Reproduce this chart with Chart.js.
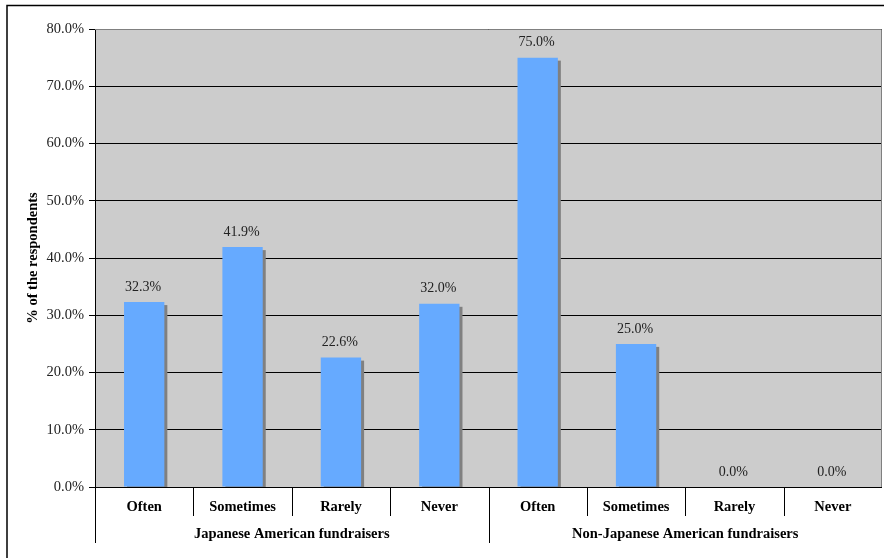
<!DOCTYPE html>
<html>
<head>
<meta charset="utf-8">
<script src="https://cdn.jsdelivr.net/npm/chart.js@4"></script>
<style>
  html, body { margin: 0; padding: 0; background: #fff; }
  #wrap { width: 884px; height: 558px; position: relative; }
</style>
</head>
<body>
<div id="wrap"><canvas id="grafico" width="884" height="558"></canvas></div>
<script>
const categorias = ['Often', 'Sometimes', 'Rarely', 'Never', 'Often', 'Sometimes', 'Rarely', 'Never'];
const grupos = ['Japanese American fundraisers', 'Non-Japanese American fundraisers'];
const valores = [32.3, 41.9, 22.6, 32.0, 75.0, 25.0, 0.0, 0.0];
const tituloEjeY = '% of the respondents';

const fuente = '"Liberation Serif", "Times New Roman", serif';

// fondo gris del area de trazado y marco exterior
const fondoPlugin = {
  id: 'fondo',
  beforeDraw(chart) {
    const { ctx, chartArea: a } = chart;
    ctx.save();
    ctx.fillStyle = '#cccccc';
    ctx.fillRect(a.left, a.top, a.right - a.left, a.bottom - a.top);
    ctx.strokeStyle = '#000';
    ctx.lineWidth = 1.5;
    ctx.strokeRect(7, 5.5, 900, 600);
    ctx.restore();
  },
  afterDraw(chart) {
    const { ctx, chartArea: a } = chart;
    ctx.save();
    ctx.strokeStyle = '#808080';
    ctx.lineWidth = 1;
    ctx.beginPath();
    ctx.moveTo(a.left, a.top + 0.5);
    ctx.lineTo(a.right - 0.5, a.top + 0.5);
    ctx.lineTo(a.right - 0.5, a.bottom);
    ctx.stroke();

    // titulo del eje Y, girado
    ctx.fillStyle = '#000';
    ctx.font = 'bold 14.5px ' + fuente;
    ctx.textAlign = 'center';
    ctx.textBaseline = 'middle';
    ctx.translate(33, (a.top + a.bottom) / 2);
    ctx.rotate(-Math.PI / 2);
    ctx.fillText(tituloEjeY, 0, 0);
    ctx.restore();
  }
};

// sombra gris desplazada detras de cada barra
const sombraPlugin = {
  id: 'sombra',
  beforeDatasetsDraw(chart) {
    const { ctx, chartArea: a } = chart;
    const meta = chart.getDatasetMeta(0);
    ctx.save();
    ctx.beginPath();
    ctx.rect(a.left, a.top, a.right - a.left, a.bottom - a.top);
    ctx.clip();
    ctx.fillStyle = '#808080';
    meta.data.forEach(bar => {
      const w = bar.width;
      const h = bar.base - bar.y;
      if (h <= 0) return;
      ctx.fillRect(bar.x - w / 2 + 3, bar.y + 3, w, h);
    });
    ctx.restore();
  }
};

// etiquetas de valor sobre las barras
const etiquetasPlugin = {
  id: 'etiquetas',
  afterDatasetsDraw(chart) {
    const { ctx } = chart;
    const meta = chart.getDatasetMeta(0);
    ctx.save();
    ctx.font = '14px ' + fuente;
    ctx.fillStyle = '#222';
    ctx.textAlign = 'center';
    ctx.textBaseline = 'middle';
    meta.data.forEach((bar, i) => {
      ctx.fillText(valores[i].toFixed(1) + '%', bar.x - 1, bar.y - 15);
    });
    ctx.restore();
  }
};

// eje de categorias en dos niveles
const ejeXPlugin = {
  id: 'ejeX',
  afterDraw(chart) {
    const { ctx, chartArea: a } = chart;
    const x = chart.scales.x;
    const paso = (a.right - a.left) / categorias.length;
    ctx.save();
    ctx.strokeStyle = '#000';
    ctx.lineWidth = 1;
    ctx.beginPath();
    ctx.moveTo(a.left, a.bottom + 0.5);
    ctx.lineTo(a.right, a.bottom + 0.5);
    ctx.stroke();

    // separadores
    for (let i = 0; i < categorias.length; i++) {
      const px = Math.round(a.left + paso * i) + 0.5;
      const largo = (i % 4 === 0) ? 56 : 29;
      ctx.beginPath();
      ctx.moveTo(px, a.bottom);
      ctx.lineTo(px, a.bottom + largo);
      ctx.stroke();
    }

    ctx.fillStyle = '#000';
    ctx.textAlign = 'center';
    ctx.textBaseline = 'middle';
    ctx.font = 'bold 14.5px ' + fuente;
    categorias.forEach((c, i) => {
      ctx.fillText(c, x.getPixelForValue(i), a.bottom + 20);
    });
    grupos.forEach((g, i) => {
      const cx = a.left + paso * (4 * i + 2);
      ctx.fillText(g, cx, a.bottom + 47);
    });
    ctx.restore();
  }
};

const config = {
  type: 'bar',
  data: {
    labels: categorias,
    datasets: [{
      data: valores,
      backgroundColor: '#66aaff',
      borderWidth: 0,
      barPercentage: 0.41,
      categoryPercentage: 1.0
    }]
  },
  options: {
    responsive: false,
    animation: false,
    layout: { padding: { left: 0, top: 29, right: 2, bottom: 71 } },
    plugins: {
      legend: { display: false },
      tooltip: { enabled: false }
    },
    scales: {
      x: {
        ticks: { display: false },
        grid: { display: false },
        border: { display: false },
        afterFit(scale) { scale.height = 0; }
      },
      y: {
        min: 0,
        max: 80,
        ticks: {
          stepSize: 10,
          padding: 5,
          color: '#222',
          font: { family: fuente, size: 14.5 },
          callback: v => v.toFixed(1) + '%'
        },
        grid: {
          color: '#000',
          lineWidth: 1,
          tickLength: 6,
          drawTicks: true
        },
        border: { display: true, color: '#000', width: 1 },
        afterFit(scale) { scale.width = 95; }
      }
    }
  },
  plugins: [fondoPlugin, sombraPlugin, etiquetasPlugin, ejeXPlugin]
};

new Chart(document.getElementById('grafico'), config);
</script>
</body>
</html>
